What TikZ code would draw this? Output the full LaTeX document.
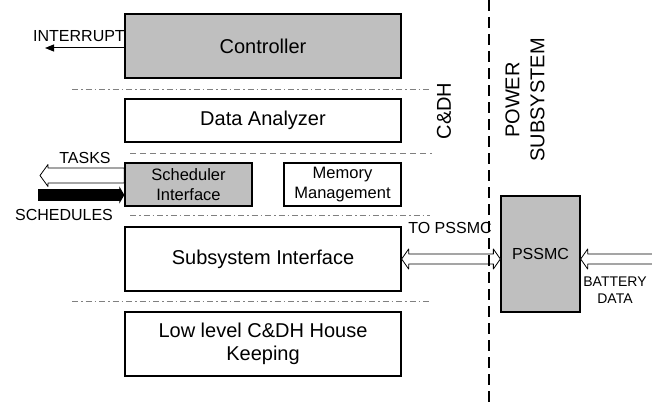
\documentclass[tikz,border=0pt]{standalone}
\usepackage{fontspec}
\setmainfont{Liberation Sans}
\usetikzlibrary{arrows.meta,calc}

\tikzset{
  blk/.style={draw, line width=1.3pt, minimum width=276pt, minimum height=64pt, align=center, inner sep=0pt, font=\fontsize{20}{23}\selectfont},
  smallblk/.style={blk, minimum height=43pt, font=\fontsize{16.5}{20}\selectfont},
  lbl/.style={inner sep=0pt, font=\fontsize{16}{18}\selectfont},
  sep/.style={gray, line width=0.8pt, dash pattern=on 6pt off 3pt on 1.5pt off 3pt},
  hollow/.style={draw, fill=white, line width=0.8pt, line join=round}
}

\begin{document}
\begin{tikzpicture}[x=1pt,y=-1pt]
\newcommand{\boxw}{276}
\newcommand{\leftx}{263}
\useasboundingbox (0,0) rectangle (652,404);

\node[blk, fill=gray!50] (ctrl) at (\leftx,46) {Controller};
\node[smallblk, font=\fontsize{20}{23}\selectfont] (anlz) at (\leftx,120.5) {Data Analyzer};
\node[smallblk, fill=gray!50, minimum width=127pt] (sched) at (188.5,184.5) {Scheduler\\Interface};
\node[smallblk, minimum width=117pt] (mem) at (342.5,184.5) {Memory\\Management};
\node[blk] (subsys) at (\leftx,259) {Subsystem Interface};
\node[blk] (hk) at (\leftx,344) {Low level C\&DH House\\Keeping};
\node[blk, fill=gray!50, minimum width=79pt, minimum height=116pt, font=\fontsize{16}{18}\selectfont] (pssmc) at (540.5,254) {PSSMC};

\node[lbl] (intr) at (79,36) {INTERRUPT};
\node[lbl] (tasks) at (85,158) {TASKS};
\node[lbl] (schedl) at (64,215) {SCHEDULES};
\node[lbl] (topssmc) at (450,228) {TO PSSMC};
\node[lbl, align=center, font=\fontsize{14}{17}\selectfont] (batt) at (615,290) {BATTERY\\DATA};
\node[lbl, rotate=90, font=\fontsize{20}{23}\selectfont] (cdh) at (444,111) {C\&DH};
\node[lbl, rotate=90, align=center, font=\fontsize{20}{25}\selectfont] (power) at (525,100) {POWER\\SUBSYSTEM};

% separators
\draw[sep] (72,89) -- (430,89);
\draw[gray, line width=0.8pt, dash pattern=on 6pt off 4pt] (130,153) -- (432,153);
\draw[sep] (130,215) -- (430,215);
\draw[sep] (72,301) -- (430,301);

% connectors
\coordinate (intrend) at (45,48);
\coordinate (tasksend) at (40,175.5);
\coordinate (schedstart) at (38,195);
\coordinate (battstart) at (652,259);
\coordinate (toend) at (pssmc.west |- subsys.east);
\coordinate (battend) at (pssmc.east |- battstart);
\draw[line width=1pt, -{Triangle[length=9pt,width=7pt]}] (ctrl.west |- intrend) -- (intrend);
\draw[line width=12pt, -{Triangle[length=5pt,width=17pt]}] (schedstart) -- (sched.west |- schedstart);
% hollow arrows
\draw[hollow] (sched.west |- tasksend) -- ($(sched.west |- tasksend)+(0,-7.5)$) -- ($(tasksend)+(8,-7.5)$) -- ++(0,-3.5) -- (tasksend)
  -- ($(tasksend)+(8,11)$) -- ++(0,-3.5) -- ($(sched.west |- tasksend)+(0,7.5)$) -- cycle;
\draw[hollow] (subsys.east) -- ++(7,-10) -- ++(0,5) -- ($(toend)+(-7,-5)$) -- ++(0,-5) -- (toend)
  -- ++(-7,10) -- ++(0,-5) -- ($(subsys.east)+(7,5)$) -- ++(0,5) -- cycle;
\draw[hollow] ($(battstart)+(0,-5)$) -- ($(battend)+(7,-5)$) -- ++(0,-5) -- (battend)
  -- ++(7,10) -- ++(0,-5) -- ($(battstart)+(0,5)$);

% subsystem border
\draw[line width=1.2pt, dash pattern=on 11pt off 6pt] (489,0) -- (489,404);
\end{tikzpicture}
\end{document}
